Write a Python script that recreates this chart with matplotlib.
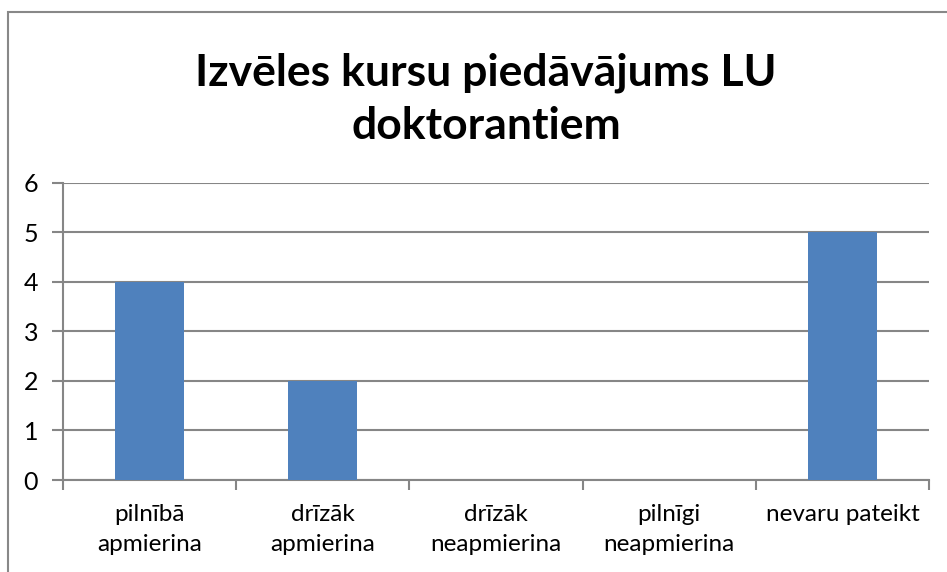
import matplotlib.pyplot as plt
from matplotlib.patches import Rectangle

categories = ["pilnībā\napmierina", "drīzāk\napmierina", "drīzāk\nneapmierina",
              "pilnīgi\nneapmierina", "nevaru pateikt"]
values = [4, 2, 0, 0, 5]
yticks = [0, 1, 2, 3, 4, 5, 6]

W, H = 947, 572
plt.rcParams['font.family'] = ['Lato', 'DejaVu Sans']
fig = plt.figure(figsize=(W / 100, H / 100), dpi=100)

# outer chart border (Excel style)
fig.patches.append(Rectangle((8 / W, -0.1), 1.2, 1 - 12 / H + 0.1, transform=fig.transFigure,
                             fill=False, edgecolor='#888888', linewidth=1.5))

ax = fig.add_axes([63 / W, 1 - 480 / H, (929 - 63) / W, (480 - 182.5) / H])
x = list(range(len(categories)))
ax.bar(x, values, width=0.4, color='#4F81BD', zorder=3)
ax.set_xlim(-0.5, len(categories) - 0.5)
ax.set_ylim(0, 6)
ax.set_yticks(yticks)
ax.set_yticklabels([str(v) for v in yticks], fontsize=18)
ax.set_xticks(x)
ax.set_xticklabels(categories, fontsize=17.5, linespacing=1.55)
ax.tick_params(axis='x', length=0, pad=17)
ax.tick_params(axis='y', length=8, width=1.5, color='#868686', pad=10)
# category boundary ticks
ax.set_xticks([i - 0.5 for i in range(len(categories) + 1)], minor=True)
ax.tick_params(axis='x', which='minor', length=7, width=1.5, color='#868686')
ax.grid(axis='y', color='#868686', linewidth=1.5, zorder=0)
for s in ['top', 'right']:
    ax.spines[s].set_visible(False)
for s in ['left', 'bottom']:
    ax.spines[s].set_color('#868686')
    ax.spines[s].set_linewidth(1.5)

fig.text(486 / W, 1 - 99 / H, "Izvēles kursu piedāvājums LU\ndoktorantiem", ha='center', va='center',
         fontsize=32, fontweight='bold', linespacing=1.4)

fig.savefig('out.png', dpi=100)
